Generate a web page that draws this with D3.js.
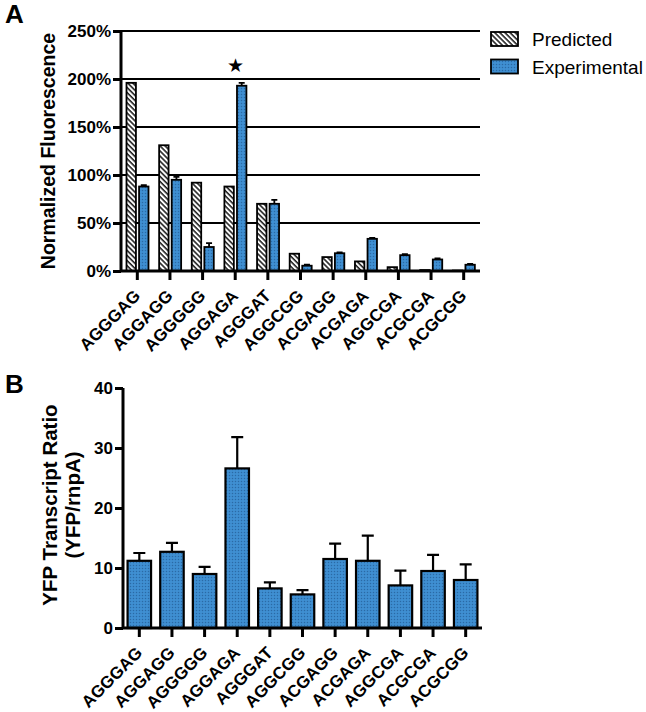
<!DOCTYPE html>
<html><head><meta charset="utf-8">
<script src="https://cdn.jsdelivr.net/npm/d3@7"></script>
<style>
html,body{margin:0;padding:0;background:#fff;}
text{font-family:"Liberation Sans",Arial,sans-serif;}
</style></head>
<body>
<svg id="c" width="646" height="712"></svg>
<script>
const categories = ["AGGGAG","AGGAGG","AGGGGG","AGGAGA","AGGGAT","AGGCGG","ACGAGG","ACGAGA","AGGCGA","ACGCGA","ACGCGG"];
const seriesNames = ["Predicted","Experimental"];
const predicted = [196,131,92,88,70,18,14.5,10,4,1,0.5];
const experimental = [88,95,25,193,70,5.5,18.5,33.5,16.5,12,6.5];
const experimentalErr = [1.5,3,4,3,4,1,1,1,1,1,1];
const yfpRatio = [11.2,12.7,9.0,26.6,6.6,5.6,11.5,11.2,7.1,9.5,8.0];
const yfpRatioErr = [1.3,1.5,1.2,5.2,1.0,0.7,2.55,4.2,2.45,2.7,2.6];
const yTicksA = [0,50,100,150,200,250];
const yTicksB = [0,10,20,30,40];
const starIndex = 3;

const svg = d3.select("#c");
const defs = svg.append("defs");
// hatch pattern
const hp = defs.append("pattern").attr("id","hatch").attr("patternUnits","userSpaceOnUse")
  .attr("width",3.6).attr("height",3.6).attr("patternTransform","rotate(45)");
hp.append("rect").attr("width",3.6).attr("height",3.6).attr("fill","#fff");
hp.append("rect").attr("width",3.6).attr("height",1.6).attr("fill","#222");
// dots pattern
const dp = defs.append("pattern").attr("id","dots").attr("patternUnits","userSpaceOnUse")
  .attr("width",3).attr("height",3);
dp.append("rect").attr("width",3).attr("height",3).attr("fill","#3f8fd2");
dp.append("circle").attr("cx",1.5).attr("cy",1.5).attr("r",0.75).attr("fill","#2a6aa6");

const bold = "bold";

// ---------- Panel A ----------
const xA = d3.scaleBand().domain(categories).range([121,480]).padding(0);
const xSub = d3.scaleBand().domain(seriesNames).range([5.5,27.5]).paddingInner(0.25);
const yA = d3.scaleLinear().domain([0,250]).range([271,31]);

svg.append("text").attr("x",5).attr("y",23).attr("font-size",26).attr("font-weight",bold).text("A");

const gA = svg.append("g");
// gridlines
gA.selectAll(".grid").data(yTicksA.filter(d=>d>0)).join("line")
  .attr("x1",121).attr("x2",480).attr("y1",d=>yA(d)).attr("y2",d=>yA(d))
  .attr("stroke","#000").attr("stroke-width",2);

// bars
const recsA = categories.map((c,i)=>({c,i,p:predicted[i],e:experimental[i],err:experimentalErr[i]}));
gA.selectAll(".pb").data(recsA).join("rect")
  .attr("x",d=>xA(d.c)+xSub("Predicted")).attr("width",xSub.bandwidth())
  .attr("y",d=>yA(d.p)).attr("height",d=>yA(0)-yA(d.p))
  .attr("fill","url(#hatch)").attr("stroke","#000").attr("stroke-width",1.8);
// error bars
gA.selectAll(".eb").data(recsA).join("path")
  .attr("d",d=>{const cx=xA(d.c)+xSub("Experimental")+xSub.bandwidth()/2; const y1=yA(d.e), y2=yA(d.e+d.err);
    return `M${cx},${y1}V${y2}M${cx-3},${y2}H${cx+3}`;})
  .attr("stroke","#000").attr("stroke-width",1.8).attr("fill","none");
gA.selectAll(".ebar").data(recsA).join("rect")
  .attr("x",d=>xA(d.c)+xSub("Experimental")).attr("width",xSub.bandwidth())
  .attr("y",d=>yA(d.e)).attr("height",d=>yA(0)-yA(d.e))
  .attr("fill","url(#dots)").attr("stroke","#000").attr("stroke-width",1.8);

// star
svg.append("text").attr("x",xA(categories[starIndex])+xA.bandwidth()/2).attr("y",yA(experimental[starIndex]+experimentalErr[starIndex])-11)
  .attr("text-anchor","middle").attr("font-size",19).attr("font-family","DejaVu Sans").text("★");

// axes
const axA = d3.axisLeft(yA).tickValues(yTicksA).tickFormat(d=>d+"%").tickSize(8).tickPadding(2);
const gyA = svg.append("g").attr("transform","translate(121,0)").call(axA);
const axXA = d3.axisBottom(xA).tickSize(9).tickFormat("");
const gxA = svg.append("g").attr("transform","translate(0,271)").call(axXA);

// x labels A
svg.append("g").selectAll("text").data(categories).join("text")
  .attr("transform",d=>`translate(${xA(d)+xA.bandwidth()/2+4},${297}) rotate(-45)`)
  .attr("text-anchor","end").attr("font-size",17).attr("font-weight",bold).text(d=>d);

svg.append("text").attr("transform","translate(55,151) rotate(-90)").attr("text-anchor","middle")
  .attr("font-size",19.5).attr("font-weight",bold).text("Normalized Fluorescence");

// legend
const leg = svg.append("g");
seriesNames.forEach((s,i)=>{
  leg.append("rect").attr("x",491).attr("y",32+i*27.5).attr("width",27).attr("height",14)
    .attr("fill",i===0?"url(#hatch)":"url(#dots)").attr("stroke","#000").attr("stroke-width",1.8);
  leg.append("text").attr("x",532).attr("y",46+i*27.5).attr("font-size",19).text(s);
});

// ---------- Panel B ----------
const xB = d3.scaleBand().domain(categories).range([123,482]).paddingInner(0.28).paddingOuter(0.14);
const yB = d3.scaleLinear().domain([0,40]).range([628,388]);

svg.append("text").attr("x",5).attr("y",393).attr("font-size",26).attr("font-weight",bold).text("B");

const recsB = categories.map((c,i)=>({c,v:yfpRatio[i],err:yfpRatioErr[i]}));
const gB = svg.append("g");
gB.selectAll(".eb").data(recsB).join("path")
  .attr("d",d=>{const cx=xB(d.c)+xB.bandwidth()/2; const y1=yB(d.v), y2=yB(d.v+d.err);
    return `M${cx},${y1}V${y2}M${cx-6},${y2}H${cx+6}`;})
  .attr("stroke","#000").attr("stroke-width",2.2).attr("fill","none");
gB.selectAll(".bar").data(recsB).join("rect")
  .attr("x",d=>xB(d.c)).attr("width",xB.bandwidth())
  .attr("y",d=>yB(d.v)).attr("height",d=>yB(0)-yB(d.v))
  .attr("fill","url(#dots)").attr("stroke","#000").attr("stroke-width",2.2);

const gyB = svg.append("g").attr("transform","translate(123,0)")
  .call(d3.axisLeft(yB).tickValues(yTicksB).tickSize(8).tickPadding(2));
const gxB = svg.append("g").attr("transform","translate(0,628)")
  .call(d3.axisBottom(xB).tickSize(9).tickFormat(""));

svg.append("g").selectAll("text").data(categories).join("text")
  .attr("transform",d=>`translate(${xB(d)+xB.bandwidth()/2+4},${654}) rotate(-45)`)
  .attr("text-anchor","end").attr("font-size",17).attr("font-weight",bold).text(d=>d);

svg.append("text").attr("transform","translate(57,505) rotate(-90)").attr("text-anchor","middle")
  .attr("font-size",20.5).attr("font-weight",bold).text("YFP Transcript Ratio");
svg.append("text").attr("transform","translate(80,505) rotate(-90)").attr("text-anchor","middle")
  .attr("font-size",20.5).attr("font-weight",bold).text("(YFP/rnpA)");

// axis styling
[gyA,gxA,gyB,gxB].forEach(g=>{
  g.select(".domain").attr("stroke","#000").attr("stroke-width",3);
  g.selectAll(".tick line").attr("stroke","#000").attr("stroke-width",3);
  g.selectAll(".tick text").attr("font-size",17).attr("font-weight",bold).attr("fill","#000")
    .attr("font-family","Liberation Sans, Arial, sans-serif");
});
gxA.select(".domain").attr("d","M121,0H480");
gyA.select(".domain").attr("d","M0,271V31");
gxB.select(".domain").attr("d","M123,0H482");
gyB.select(".domain").attr("d","M0,628V388");
</script>
</body></html>
